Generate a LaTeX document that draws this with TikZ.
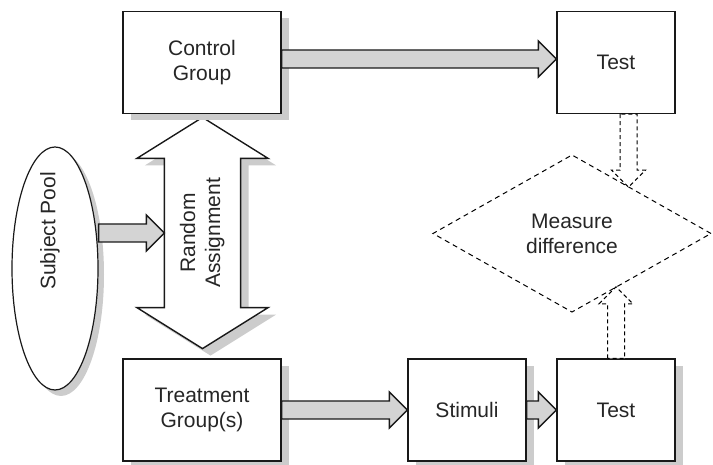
\documentclass[tikz,border=0pt]{standalone}
\usepackage{graphicx}
\usepackage{fontspec}
\setmainfont{Liberation Sans}
\usetikzlibrary{shapes.geometric,shadows,calc,backgrounds}

% horizontal block arrow, tip at x of #2
\newcommand{\fatarrow}[2]{%
  \draw[blockarrow] let \p1=(#1), \p2=(#2) in
    (\x1,\y1+9pt) -- (\x2-18pt,\y1+9pt) -- (\x2-18pt,\y1+18pt) -- (\x2,\y1)
    -- (\x2-18pt,\y1-18pt) -- (\x2-18pt,\y1-9pt) -- (\x1,\y1-9pt) -- cycle;}
% vertical hollow arrow, tip at y of #2, #3 = signed head length
\newcommand{\vfatarrow}[3]{%
  \draw[measarrow] let \p1=(#1), \p2=(#2) in
    (\x1-8.5pt,\y1) -- ({\x1-8.5pt},{\y2-(#3)}) -- ({\x1-17pt},{\y2-(#3)}) -- (\x1,\y2)
    -- ({\x1+17pt},{\y2-(#3)}) -- ({\x1+8.5pt},{\y2-(#3)}) -- (\x1+8.5pt,\y1) -- cycle;}

\begin{document}
\begin{tikzpicture}[x=1pt, y=1pt, line width=1.2pt,
    every node/.style={font=\fontsize{21}{25}\selectfont, text=black!85},
    box/.style={draw=black!90, fill=white, minimum width=158pt, minimum height=102pt, inner sep=0pt, align=center},
    boxshadow/.style={drop shadow={shadow xshift=8pt, shadow yshift=-7pt, fill=black!20, opacity=1}},
    blockarrow/.style={draw=black!90, line width=1.4pt, fill=black!17, line join=miter},
    measarrow/.style={draw=black, fill=white, line width=1pt, dash pattern=on 4pt off 3pt},
    meas/.style={diamond, draw=black, line width=1pt, dash pattern=on 5pt off 4pt, minimum width=278pt, minimum height=157pt, inner sep=0pt, outer sep=0pt, align=center}]
    \useasboundingbox (0,0) rectangle (713,465);

    % Subject pool
    \node[ellipse, draw=black!90, fill=white, minimum width=86pt, minimum height=243pt, inner sep=0pt,
          drop shadow={shadow xshift=6pt, shadow yshift=-6pt, fill=black!20, opacity=1}] (pool) at (55,196.5) {};
    \node[rotate=90] (pooltext) at ([xshift=-5pt,yshift=37.5pt]pool.center) {Subject Pool};

    % Groups, stimuli and tests
    \node[box, boxshadow] (ctrl) at (202,402.5) {Control\\Group};
    \node[box, minimum width=118pt] (test1) at (616,402.5) {Test};
    \node[box, boxshadow] (treat) at (202,55) {Treatment\\Group(s)};
    \node[box, boxshadow, minimum width=118pt] (stim) at (467,55) {Stimuli};
    \node[box, boxshadow, minimum width=118pt] (test2) at (616,55) {Test};

    % Random assignment
    \node[minimum width=75pt, minimum height=148pt, inner sep=0pt] (ra) at (202.5,232)
        {\rotatebox{90}{\begin{tabular}{@{}c@{}}Random\\Assignment\end{tabular}}};
    \begin{pgfonlayer}{background}
    \draw[draw=black!90, line width=1.4pt, fill=white, boxshadow] (ra.north west) -- ++(-27.5pt,0) -- ([yshift=41pt]ra.north)
        -- ([xshift=27.5pt]ra.north east) -- (ra.north east) -- (ra.south east) -- ++(27.5pt,0)
        -- ([yshift=-41pt]ra.south) -- ([xshift=-27.5pt]ra.south west) -- (ra.south west) -- cycle;
    \end{pgfonlayer}

    % Measure difference
    \node[meas] (meas) at (572,231.5) {Measure\\difference};

    % Block arrows
    \fatarrow{pool.east |- ra.west}{ra.west}
    \fatarrow{[yshift=3.5pt]ctrl.east}{test1.west}
    \fatarrow{treat.east}{stim.west}
    \fatarrow{stim.east}{test2.west}

    % Dashed arrows
    \vfatarrow{[xshift=12.5pt]test1.south}{$(meas.north)!0.41!(meas.east)$}{-17pt}
    \vfatarrow{test2.north}{$(meas.south)!0.32!(meas.east)$}{17pt}
\end{tikzpicture}
\end{document}
